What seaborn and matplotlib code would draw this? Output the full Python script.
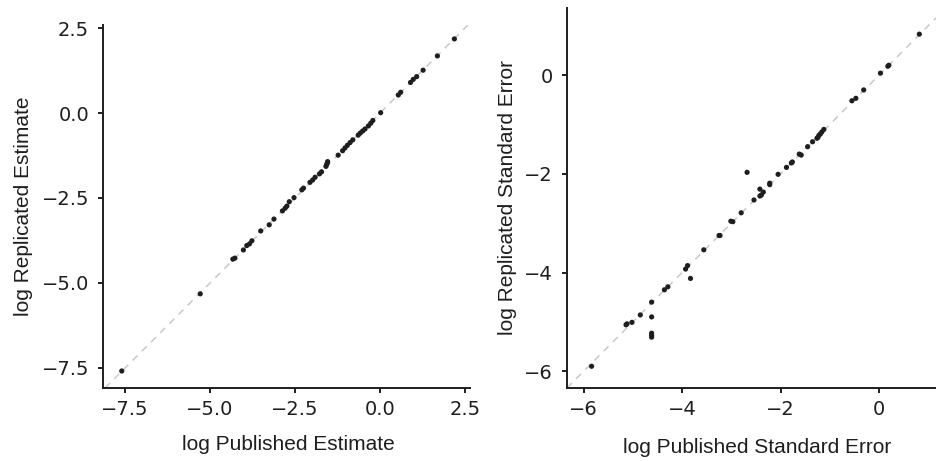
import matplotlib
matplotlib.use("Agg")
import matplotlib.pyplot as plt
import seaborn as sns
import pandas as pd

# ---- data ----
pub_est = [-7.60, -5.29, -4.33, -4.27, -4.02, -3.92, -3.84, -3.77, -3.51, -3.26,
           -3.12, -2.87, -2.79, -2.74, -2.67, -2.53, -2.30, -2.25, -2.06, -1.98,
           -1.91, -1.78, -1.72, -1.59, -1.57, -1.55, -1.54, -1.23, -1.10, -1.03,
           -0.96, -0.88, -0.80, -0.64, -0.58, -0.51, -0.44, -0.34, -0.27, -0.21,
           0.02, 0.54, 0.61, 0.90, 0.98, 1.08, 1.27, 1.69, 2.19]
rep_est = [-7.59, -5.32, -4.30, -4.27, -4.03, -3.90, -3.85, -3.76, -3.47, -3.29,
           -3.12, -2.88, -2.80, -2.74, -2.61, -2.49, -2.26, -2.21, -2.04, -1.97,
           -1.89, -1.79, -1.73, -1.57, -1.52, -1.47, -1.43, -1.24, -1.11, -1.03,
           -0.95, -0.87, -0.79, -0.65, -0.59, -0.53, -0.47, -0.38, -0.30, -0.22,
           0.01, 0.53, 0.61, 0.90, 0.99, 1.07, 1.26, 1.68, 2.18]

pub_se = [-5.84, -5.14, -5.12, -5.02, -4.85, -4.62, -4.62, -4.62, -4.62, -4.62,
          -4.36, -4.29, -3.93, -3.89, -3.83, -3.56, -3.25, -3.23, -3.01, -2.97,
          -2.80, -2.68, -2.54, -2.42, -2.42, -2.39, -2.35, -2.22, -2.22, -2.05,
          -1.88, -1.78, -1.76, -1.62, -1.58, -1.45, -1.35, -1.26, -1.24, -1.22,
          -1.19, -1.16, -1.12, -0.55, -0.47, -0.31, 0.03, 0.18, 0.20, 0.82]
rep_se = [-5.90, -5.06, -5.04, -5.01, -4.86, -4.60, -4.90, -5.23, -5.27, -5.31,
          -4.35, -4.29, -3.93, -3.86, -4.12, -3.54, -3.25, -3.25, -2.96, -2.97,
          -2.79, -1.97, -2.53, -2.31, -2.45, -2.43, -2.37, -2.19, -2.22, -2.01,
          -1.87, -1.78, -1.76, -1.60, -1.62, -1.45, -1.35, -1.28, -1.26, -1.22,
          -1.19, -1.15, -1.10, -0.52, -0.47, -0.30, 0.04, 0.18, 0.20, 0.83]

est_ticks = [-7.5, -5.0, -2.5, 0.0, 2.5]
se_ticks = [-6, -4, -2, 0]

df_est = pd.DataFrame({"pub": pub_est, "rep": rep_est})
df_se = pd.DataFrame({"pub": pub_se, "rep": rep_se})

sns.set_style("ticks")
plt.rcParams["font.family"] = ["DejaVu Sans"]
ink = "#1e1e1e"

fig = plt.figure(figsize=(9.37, 4.61), dpi=100)
ax1 = fig.add_axes([0.110, 0.1584, 0.3916, 0.7874])
ax2 = fig.add_axes([0.6051, 0.1584, 0.3939, 0.8242])

panels = [
    (ax1, df_est, est_ticks, (-8.15, 2.65), (-8.09, 2.59),
     "log Published Estimate", "log Replicated Estimate", "{:.1f}", -0.218, 0.505),
    (ax2, df_se, se_ticks, (-6.34, 1.16), (-6.34, 1.36),
     "log Published Standard Error", "log Replicated Standard Error", "{:.0f}", -0.162, 0.515),
]

for ax, df, ticks, xl, yl, xlab, ylab, fmt, ylx, xlx in panels:
    ax.axline((0, 0), slope=1, color="#c8c8c8", lw=1.1, dashes=(4.5, 4), zorder=1)
    sns.scatterplot(data=df, x="pub", y="rep", ax=ax, color=ink, s=14,
                    edgecolor="none", zorder=3)
    ax.set_xlim(*xl)
    ax.set_ylim(*yl)
    ax.set_xticks(ticks)
    ax.set_yticks(ticks)
    labels = [fmt.format(t).replace("-", "\u2212") for t in ticks]
    ax.set_xticklabels(labels)
    ax.set_yticklabels(labels)
    ax.tick_params(axis="both", labelsize=14, length=3.5, width=1.4,
                   colors=ink, labelcolor=ink)
    ax.tick_params(axis="x", pad=5)
    ax.tick_params(axis="y", pad=6.5)
    for side in ["left", "bottom"]:
        ax.spines[side].set_linewidth(1.4)
        ax.spines[side].set_color(ink)
    sns.despine(ax=ax)
    ax.set_xlabel(xlab, fontsize=15, family=["Liberation Sans"], color=ink, va="center")
    ax.set_ylabel(ylab, fontsize=15, family=["Liberation Sans"], color=ink, va="center")
    ax.xaxis.set_label_coords(xlx, -0.157)
    ax.yaxis.set_label_coords(ylx, 0.5)

fig.savefig("out.png", dpi=100)
